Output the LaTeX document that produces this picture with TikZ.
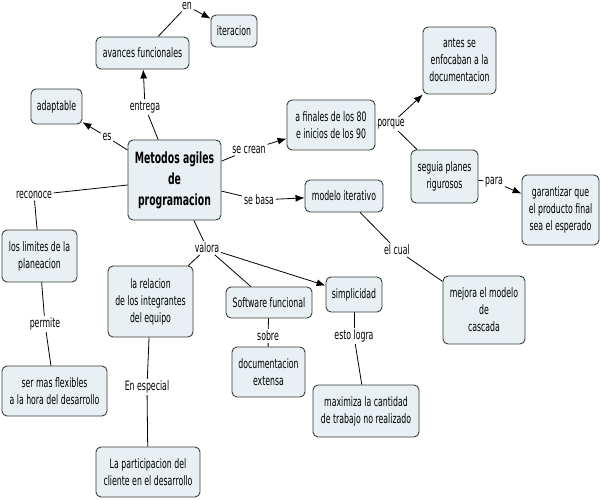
\documentclass[tikz,border=0pt]{standalone}
\usepackage{fontspec}
\setmainfont{DejaVu Sans}[FakeStretch=0.6]
\usetikzlibrary{arrows.meta}
\definecolor{boxfill}{HTML}{E8F0F3}
\definecolor{boxline}{HTML}{3A3A3A}

\begin{document}
\begin{tikzpicture}[x=1pt, y=-1pt, line width=0.8pt,
  every node/.style={font=\fontsize{13}{17}\selectfont},
  cbox/.style={draw=boxline, fill=boxfill, rounded corners=5pt, align=center, inner sep=2pt, line width=0.9pt},
  lw/.style={inner sep=1.5pt},
  tip/.style={-{Latex[length=9pt,width=7pt]}}]
  \useasboundingbox (0,0) rectangle (600,500);
  % concepts
  \node (met) [cbox, minimum width=93pt, minimum height=80pt, font=\bfseries\fontsize{15.5}{21}\selectfont] at (174.5,180) {Metodos agiles\\de\\programacion};
  \node (av) [cbox, minimum width=93pt, minimum height=32pt] at (142.5,53) {avances funcionales};
  \node (it) [cbox, minimum width=46pt, minimum height=32pt] at (234,31) {iteracion};
  \node (ad) [cbox, minimum width=51pt, minimum height=35pt] at (56.5,106.5) {adaptable};
  \node (fin) [cbox, minimum width=88pt, minimum height=50pt] at (331,125) {a finales de los 80\\e inicios de los 90};
  \node (ant) [cbox, minimum width=73pt, minimum height=67pt] at (459.5,60.5) {antes se\\enfocaban a la\\documentacion};
  \node (seg) [cbox, minimum width=67pt, minimum height=53pt] at (444.5,176.5) {seguia planes\\rigurosos};
  \node (gar) [cbox, minimum width=77pt, minimum height=70pt] at (560.5,210) {garantizar que\\el producto final\\sea el esperado};
  \node (mod) [cbox, minimum width=78pt, minimum height=32pt] at (344,196) {modelo iterativo};
  \node (mej) [cbox, minimum width=82pt, minimum height=68pt] at (484,310) {mejora el modelo\\de\\cascada};
  \node (sim) [cbox, minimum width=56pt, minimum height=35pt] at (354,294.5) {simplicidad};
  \node (max) [cbox, minimum width=106pt, minimum height=52pt] at (366,411) {maximiza la cantidad\\de trabajo no realizado};
  \node (sof) [cbox, minimum width=86pt, minimum height=31pt] at (269,302.5) {Software funcional};
  \node (doc) [cbox, minimum width=73pt, minimum height=50pt] at (268.5,372) {documentacion\\extensa};
  \node (rel) [cbox, minimum width=85pt, minimum height=71pt] at (150.5,301.5) {la relacion\\de los integrantes\\del equipo};
  \node (par) [cbox, minimum width=104pt, minimum height=50pt] at (148,472) {La participacion del\\cliente en el desarrollo};
  \node (lim) [cbox, minimum width=75pt, minimum height=52pt] at (39.5,256) {los limites de la\\planeacion};
  \node (ser) [cbox, minimum width=105pt, minimum height=50pt] at (54.5,391) {ser mas flexibles\\a la hora del desarrollo};
  % linking words
  \node (en) [lw] at (187,6) {en};
  \node (entrega) [lw] at (145,107) {entrega};
  \node (es) [lw] at (107,137) {es};
  \node (secrean) [lw] at (249,150) {se crean};
  \node (sebasa) [lw] at (259,200) {se basa};
  \node (reconoce) [lw] at (34,195) {reconoce};
  \node (valora) [lw] at (207,248) {valora};
  \node (porque) [lw] at (391,124) {porque};
  \node (para) [lw] at (494,182) {para};
  \node (elcual) [lw] at (397,250) {el cual};
  \node (esto) [lw] at (354,336) {esto logra};
  \node (sobre) [lw] at (268,336) {sobre};
  \node (espec) [lw] at (147,387) {En especial};
  \node (permite) [lw] at (45,324) {permite};
  % connectors
  \draw (met) -- (entrega);
  \draw[tip] (entrega) -- (av);
  \draw (av) -- (en);
  \draw[tip] (en) -- (it);
  \draw (met) -- (es);
  \draw[tip] (es) -- (ad);
  \draw (met) -- (secrean);
  \draw[tip] (secrean) -- (fin);
  \draw (fin) -- (porque);
  \draw[tip] (porque) -- (ant);
  \draw (porque) -- (seg);
  \draw (seg) -- (para);
  \draw[tip] (para) -- (gar);
  \draw (met) -- (sebasa);
  \draw[tip] (sebasa) -- (mod);
  \draw (mod) -- (elcual);
  \draw (elcual) -- (mej);
  \draw (met) -- (reconoce);
  \draw (reconoce) -- (lim);
  \draw (lim) -- (permite);
  \draw (permite) -- (ser);
  \draw (met) -- (valora);
  \draw (valora) -- (rel);
  \draw (valora) -- (sof);
  \draw[tip] (valora) -- (sim);
  \draw (rel) -- (espec);
  \draw (espec) -- (par);
  \draw (sof) -- (sobre);
  \draw (sobre) -- (doc);
  \draw (sim) -- (esto);
  \draw (esto) -- (max);
\end{tikzpicture}
\end{document}
